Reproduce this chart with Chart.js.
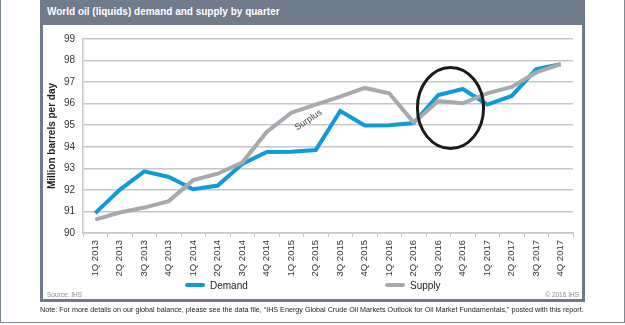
<!DOCTYPE html>
<html>
<head>
<meta charset="utf-8">
<script src="https://cdn.jsdelivr.net/npm/chart.js@4/dist/chart.umd.min.js"></script>
<style>
  html, body { margin: 0; padding: 0; background: #fff; }
  body { width: 625px; height: 325px; position: relative; overflow: hidden;
         font-family: "Liberation Sans", Arial, sans-serif; }
  #frame { position: absolute; left: 0; top: 0; width: 623px; height: 322px;
           border-left: 1px solid #7c8794; border-right: 1px solid #7c8794; border-bottom: 1px solid #7c8794; }
  #panel { position: absolute; left: 40px; top: 0; width: 545px; height: 302px; background: #6f7b8a; }
  #title { position: absolute; left: 7px; top: 6px; color: #fff; font-weight: bold; font-size: 10px; white-space: nowrap; }
  #inner { position: absolute; left: 3px; top: 25px; width: 539px; height: 274px; background: #fff; }
  #chart-box { position: absolute; left: 0; top: 0; width: 539px; height: 258px; }
  .leg { position: absolute; top: 255px; font-size: 10px; color: #222; white-space: nowrap; }
  .leg i { display: inline-block; width: 20px; height: 4px; border-radius: 2px; vertical-align: middle; margin-right: 5px; position: relative; top: -1px; }
  .small { position: absolute; top: 266px; font-size: 6.5px; color: #8a8a8a; white-space: nowrap; }
  #note { position: absolute; left: 40px; top: 305px; font-size: 8px; color: #222; white-space: nowrap; }
</style>
</head>
<body>
<div id="frame"></div>
<div id="panel">
  <div id="title">World oil (liquids) demand and supply by quarter</div>
  <div id="inner">
    <div id="chart-box"><canvas id="oil"></canvas></div>
    <div class="leg" style="left:142px"><i style="background:#0f9bd7"></i>Demand</div>
    <div class="leg" style="left:342px"><i style="background:#a6a9ad"></i>Supply</div>
    <div class="small" style="left:4px">Source: IHS</div>
    <div class="small" style="right:3px">© 2016 IHS</div>
  </div>
</div>
<div id="note">Note: For more details on our global balance, please see the data file, “IHS Energy Global Crude Oil Markets Outlook for Oil Market Fundamentals,” posted with this report.</div>

<script>
const quarters = ['1Q 2013', '2Q 2013', '3Q 2013', '4Q 2013', '1Q 2014', '2Q 2014', '3Q 2014', '4Q 2014',
  '1Q 2015', '2Q 2015', '3Q 2015', '4Q 2015', '1Q 2016', '2Q 2016', '3Q 2016', '4Q 2016',
  '1Q 2017', '2Q 2017', '3Q 2017', '4Q 2017'];

const demand = [90.92, 92.0, 92.86, 92.6, 92.03, 92.2, 93.2, 93.76, 93.77, 93.85, 95.66, 94.99,
  95.0, 95.1, 96.4, 96.68, 95.96, 96.36, 97.6, 97.83];

const supply = [90.62, 90.95, 91.18, 91.48, 92.45, 92.75, 93.27, 94.69, 95.58, 95.96, 96.33, 96.73,
  96.48, 95.12, 96.12, 96.02, 96.48, 96.78, 97.45, 97.83];

const yTicks = [90, 91, 92, 93, 94, 95, 96, 97, 98, 99];

const BLUE = '#0f9bd7';
const GREY = '#a6a9ad';
const GRID = '#c3c7cc';

// squeeze the footnote so it spans the panel width
const note = document.getElementById('note');
let size = 8;
while (note.scrollWidth > 544 && size > 6) {
  size -= 0.1;
  note.style.fontSize = size + 'px';
}

// "Surplus" note and the circle round the 2016 crossover
const notes = {
  id: 'notes',
  afterDatasetsDraw(chart) {
    const { ctx, scales: { x, y } } = chart;
    ctx.save();
    // label sitting in the gap between the two lines
    ctx.translate(x.getPixelForValue(8.7), y.getPixelForValue(95.24));
    ctx.rotate(-0.58);
    ctx.font = '9px "Liberation Sans", Arial, sans-serif';
    ctx.fillStyle = '#444';
    ctx.textAlign = 'center';
    ctx.textBaseline = 'middle';
    ctx.fillText('Surplus', 0, 0);
    ctx.restore();

    const cx = x.getPixelForValue(14.5);
    const cy = y.getPixelForValue(95.8);
    const rx = x.getPixelForValue(14.5 + 1.35) - cx;
    const ry = cy - y.getPixelForValue(95.8 + 1.88);
    ctx.save();
    ctx.beginPath();
    ctx.ellipse(cx, cy, rx, ry, 0, 0, Math.PI * 2);
    ctx.lineWidth = 3;
    ctx.strokeStyle = '#1b1b1b';
    ctx.stroke();
    ctx.restore();
  }
};

new Chart(document.getElementById('oil'), {
  type: 'line',
  data: {
    labels: quarters,
    datasets: [
      { label: 'Demand', data: demand, borderColor: BLUE, backgroundColor: BLUE, order: 1 },
      { label: 'Supply', data: supply, borderColor: GREY, backgroundColor: GREY, order: 0 },
    ],
  },
  plugins: [notes],
  options: {
    responsive: true,
    maintainAspectRatio: false,
    animation: false,
    layout: { padding: { top: 7, right: 9, left: 0, bottom: 0 } },
    elements: {
      line: { borderWidth: 4, tension: 0, fill: false, borderCapStyle: 'butt' },
      point: { radius: 0, hoverRadius: 0 },
    },
    plugins: {
      legend: { display: false },
      tooltip: { enabled: false },
    },
    scales: {
      x: {
        type: 'category',
        offset: true,
        grid: { drawOnChartArea: false, drawTicks: true, tickLength: 4, color: GRID, lineWidth: 1, offset: true },
        border: { display: true, color: GRID, width: 1.5 },
        ticks: {
          minRotation: 90, maxRotation: 90, autoSkip: false, padding: 3,
          color: '#333', font: { family: '"Liberation Sans", Arial, sans-serif', size: 9.5 },
        },
        afterFit: scale => { scale.height = 50; },
      },
      y: {
        min: 90,
        max: 99,
        afterBuildTicks: scale => { scale.ticks = yTicks.map(v => ({ value: v })); },
        grid: { color: GRID, lineWidth: 1.5, drawTicks: false },
        border: { display: true, color: GRID, width: 1.5 },
        ticks: {
          padding: 8, color: '#333',
          font: { family: '"Liberation Sans", Arial, sans-serif', size: 10 },
        },
        title: {
          display: true, text: 'Million barrels per day', color: '#222',
          font: { family: '"Liberation Sans", Arial, sans-serif', size: 10, weight: 'bold' },
          padding: { top: 3, bottom: 0 },
        },
        afterFit: scale => { scale.width = 40; },
      },
    },
  },
});
</script>
</body>
</html>
